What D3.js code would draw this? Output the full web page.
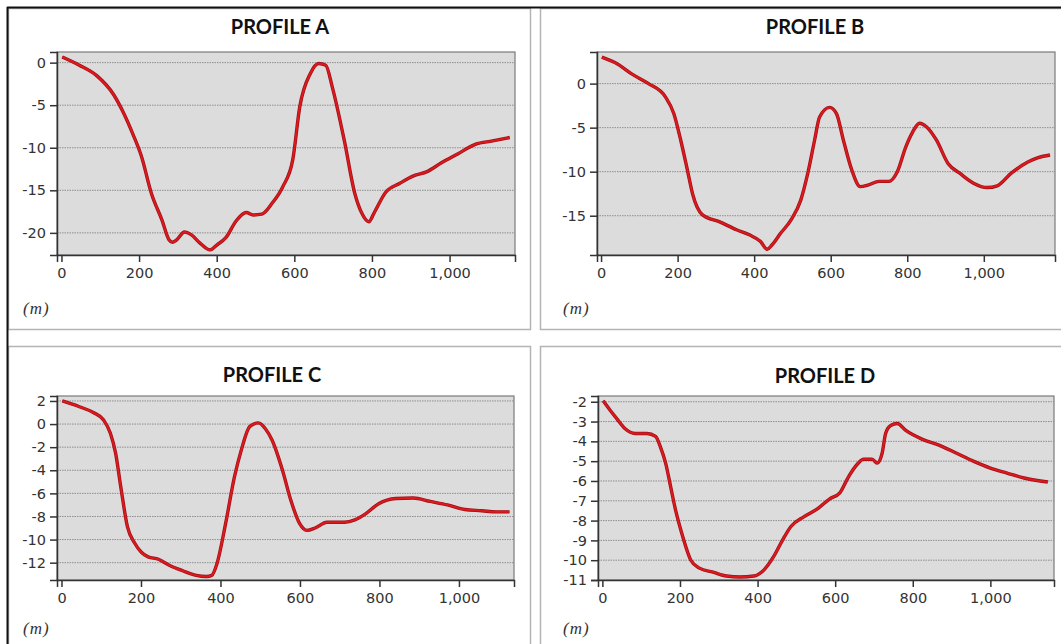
<!DOCTYPE html>
<html>
<head>
<meta charset="utf-8">
<script src="https://cdn.jsdelivr.net/npm/d3@7"></script>
<style>
  body { margin: 0; background: #fff; }
  .tick text { font-family: "DejaVu Sans", sans-serif; font-size: 14.5px; fill: #333; }
  .title { font-family: Lato, sans-serif; font-weight: bold; font-size: 20px; fill: #111; }
  .unit { font-family: "Liberation Serif", serif; font-style: italic; font-size: 17px; letter-spacing: 1px; fill: #333; }
</style>
</head>
<body>
<script>
// distance along profile (m) and elevation (m)
var distA = [2, 46, 90, 135, 161, 184, 206, 232, 259, 277, 286, 295, 317, 334, 357, 383, 401, 423, 450, 476, 494, 516, 543, 570, 596, 614, 641, 663, 681, 698, 729, 756, 774, 792, 805, 836, 871, 907, 942, 978, 1022, 1066, 1111, 1155];
var elevA = [0.66, -0.3, -1.5, -3.8, -6, -8.4, -11, -15.4, -18.5, -20.8, -21.1, -20.9, -19.9, -20.2, -21.2, -22.0, -21.4, -20.6, -18.6, -17.6, -17.9, -17.8, -16.5, -14.6, -11.4, -5.2, -1.3, -0.1, -0.3, -2.9, -9.2, -15.4, -17.7, -18.7, -17.7, -15.2, -14.2, -13.3, -12.8, -11.8, -10.7, -9.6, -9.2, -8.8];

var distB = [2, 44, 80, 124, 168, 190, 208, 226, 239, 265, 310, 354, 389, 416, 434, 447, 469, 496, 522, 540, 558, 571, 597, 615, 633, 655, 677, 699, 726, 752, 774, 796, 814, 832, 850, 876, 907, 938, 973, 1009, 1035, 1071, 1115, 1142, 1173];
var elevB = [3.0, 2.2, 1.1, 0, -1.5, -3.4, -6.4, -9.9, -12.5, -14.9, -15.7, -16.6, -17.2, -17.9, -18.8, -18.3, -17.0, -15.5, -13.2, -10.2, -6.4, -3.8, -2.7, -3.4, -6.4, -9.8, -11.7, -11.5, -11.1, -11.1, -10.0, -7.2, -5.5, -4.5, -4.9, -6.4, -9.1, -10.2, -11.3, -11.8, -11.6, -10.2, -8.9, -8.4, -8.1];

var distC = [2, 45, 80, 106, 123, 136, 149, 166, 184, 201, 218, 244, 270, 305, 339, 365, 378, 391, 413, 435, 452, 474, 495, 513, 530, 556, 577, 599, 617, 638, 668, 712, 738, 764, 798, 841, 885, 928, 971, 1015, 1058, 1093, 1127];
var elevC = [2.0, 1.5, 1.0, 0.35, -0.8, -2.5, -5.4, -8.9, -10.3, -11.1, -11.5, -11.7, -12.2, -12.7, -13.1, -13.2, -13.1, -12.1, -8.6, -4.6, -2.3, -0.2, 0.1, -0.4, -1.4, -4.0, -6.6, -8.6, -9.2, -9.0, -8.5, -8.5, -8.3, -7.8, -6.9, -6.45, -6.4, -6.7, -7.0, -7.4, -7.5, -7.6, -7.6];

var distD = [2, 19, 37, 58, 85, 115, 137, 150, 163, 176, 189, 207, 228, 250, 285, 320, 355, 390, 416, 442, 464, 486, 520, 555, 586, 612, 634, 651, 673, 695, 708, 721, 730, 743, 760, 782, 825, 869, 913, 956, 1000, 1043, 1087, 1148];
var elevD = [-1.95, -2.4, -2.85, -3.35, -3.6, -3.6, -3.75, -4.3, -5.1, -6.3, -7.5, -8.8, -10.0, -10.4, -10.6, -10.8, -10.85, -10.8, -10.5, -9.8, -9.0, -8.3, -7.8, -7.4, -6.9, -6.6, -5.8, -5.3, -4.9, -4.9, -5.1, -4.6, -3.6, -3.2, -3.1, -3.45, -3.9, -4.2, -4.6, -5.0, -5.35, -5.6, -5.85, -6.05];

var xTicks = [0, 200, 400, 600, 800, 1000];
var yTicksA = [0, -5, -10, -15, -20];
var yTicksB = [0, -5, -10, -15];
var yTicksC = [2, 0, -2, -4, -6, -8, -10, -12];
var yTicksD = [-2, -3, -4, -5, -6, -7, -8, -9, -10, -11];
var titles = ["PROFILE A", "PROFILE B", "PROFILE C", "PROFILE D"];

var W = 1061, H = 644;

var svg = d3.select("body").append("svg")
  .attr("width", W)
  .attr("height", H);

// panel layout: box = outer frame, plot = plotting area
var panels = [
  { title: titles[0], dist: distA, elev: elevA, yTicks: yTicksA, xDom: [-11.5, 1168.6], yDom: [-22.6, 1.25],
    box: [8, 8, 530, 329], plot: { l: 57, r: 515, t: 52, b: 255 }, titleX: 280, titleY: 34, unitX: 23, unitY: 314 },
  { title: titles[1], dist: distB, elev: elevB, yTicks: yTicksB, xDom: [-10.6, 1186], yDom: [-19.46, 3.59],
    box: [540, 8, 1063, 329], plot: { l: 597, r: 1055, t: 52, b: 255 }, titleX: 815, titleY: 34, unitX: 563, unitY: 314 },
  { title: titles[2], dist: distC, elev: elevC, yTicks: yTicksC, xDom: [-11.3, 1138.5], yDom: [-13.5, 2.43],
    box: [8, 346, 530, 650], plot: { l: 57, r: 514, t: 396, b: 580 }, titleX: 272, titleY: 382, unitX: 23, unitY: 634 },
  { title: titles[3], dist: distD, elev: elevD, yTicks: yTicksD, xDom: [-11.3, 1164], yDom: [-11, -1.71],
    box: [540, 346, 1063, 650], plot: { l: 598, r: 1054, t: 396, b: 580 }, titleX: 825, titleY: 383, unitX: 563, unitY: 634 }
];

panels.forEach(function(p) { drawPanel(p); });

// outer black edges (top and left)
svg.append("line").attr("x1", 7).attr("x2", W).attr("y1", 7.5).attr("y2", 7.5)
  .attr("stroke", "#111").attr("stroke-width", 2);
svg.append("line").attr("x1", 7.5).attr("x2", 7.5).attr("y1", 7).attr("y2", H)
  .attr("stroke", "#111").attr("stroke-width", 2);

function drawPanel(p) {
  var g = svg.append("g");

  g.append("rect")
    .attr("x", p.box[0] + 0.5).attr("y", p.box[1] + 0.5)
    .attr("width", p.box[2] - p.box[0]).attr("height", p.box[3] - p.box[1])
    .attr("fill", "#fff")
    .attr("stroke", "#b4b4b4")
    .attr("stroke-width", 1.5);

  g.append("text")
    .attr("class", "title")
    .attr("x", p.titleX).attr("y", p.titleY)
    .attr("text-anchor", "middle")
    .text(p.title);

  var x = d3.scaleLinear().domain(p.xDom).range([p.plot.l, p.plot.r]);
  var y = d3.scaleLinear().domain(p.yDom).range([p.plot.b, p.plot.t]);

  g.append("rect")
    .attr("x", p.plot.l).attr("y", p.plot.t)
    .attr("width", p.plot.r - p.plot.l).attr("height", p.plot.b - p.plot.t)
    .attr("fill", "#dcdcdc")
    .attr("stroke", "#7a7a7a")
    .attr("stroke-width", 1.2);

  // dotted gridlines
  g.selectAll(".grid").data(p.yTicks).enter()
    .append("line")
    .attr("x1", p.plot.l).attr("x2", p.plot.r)
    .attr("y1", function(d) { return y(d); })
    .attr("y2", function(d) { return y(d); })
    .attr("stroke", "#8e8e8e")
    .attr("stroke-width", 1)
    .attr("stroke-dasharray", "1.5,1");

  var line = d3.line()
    .x(function(d) { return x(d[0]); })
    .y(function(d) { return y(d[1]); })
    .curve(d3.curveMonotoneX);

  var pts = p.dist.map(function(d, i) { return [d, p.elev[i]]; });

  // dark rim under the red line, like the original rendering
  g.append("path")
    .datum(pts)
    .attr("fill", "none")
    .attr("stroke", "#9c1018")
    .attr("stroke-width", 3.4)
    .attr("stroke-linejoin", "round")
    .attr("d", line);
  g.append("path")
    .datum(pts)
    .attr("fill", "none")
    .attr("stroke", "#dc1a1e")
    .attr("stroke-width", 2)
    .attr("stroke-linejoin", "round")
    .attr("d", line);

  var xAxis = d3.axisBottom(x)
    .tickValues(xTicks)
    .tickSize(7)
    .tickPadding(6)
    .tickFormat(d3.format(","));

  var yAxis = d3.axisLeft(y)
    .tickValues(p.yTicks)
    .tickSize(7)
    .tickPadding(4)
    .tickFormat(function(d) { return String(d); });

  var gx = g.append("g")
    .attr("transform", "translate(0," + p.plot.b + ")")
    .call(xAxis);
  var gy = g.append("g")
    .attr("transform", "translate(" + p.plot.l + ",0)")
    .call(yAxis);

  [gx, gy].forEach(function(a) {
    a.select(".domain").attr("stroke", "#333").attr("stroke-width", 1.5);
    a.selectAll(".tick line").attr("stroke", "#333").attr("stroke-width", 1.5);
  });

  g.append("text")
    .attr("class", "unit")
    .attr("x", p.unitX).attr("y", p.unitY)
    .text("(m)");
}
</script>
</body>
</html>
